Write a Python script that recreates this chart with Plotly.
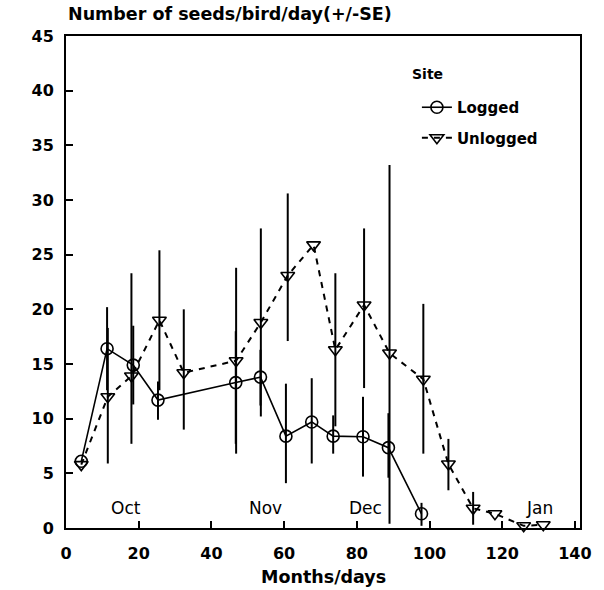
import plotly.graph_objects as go

# ---- data ----
log_x = [4.2, 11.3, 18.5, 25.3, 46.7, 53.5, 60.5, 67.6, 73.5, 81.7, 88.7, 97.8]
log_y = [6.1, 16.4, 14.9, 11.7, 13.3, 13.8, 8.4, 9.7, 8.4, 8.35, 7.35, 1.3]
log_se_plus = [0, 3.8, 3.6, 1.7, 4.7, 2.5, 4.8, 4.0, 1.9, 3.65, 3.15, 1.0]
log_se_minus = [0, 3.8, 3.6, 1.8, 5.6, 2.6, 4.3, 3.8, 1.6, 3.65, 2.75, 1.1]

unl_x = [4.2, 11.5, 18.0, 25.7, 32.4, 46.8, 53.6, 61.0, 68.1, 74.1, 82.0, 89.0,
         98.3, 105.2, 112.0, 118.0, 125.9, 131.3]
unl_y = [5.8, 12.0, 13.9, 19.0, 14.2, 15.3, 18.8, 23.1, 25.9, 16.3, 20.4, 16.0,
         13.6, 5.85, 1.8, 1.3, 0.2, 0.3]
unl_se_plus = [0, 6.3, 9.4, 6.4, 5.8, 8.5, 8.6, 7.5, 0, 7.0, 7.0, 17.2,
               6.9, 2.3, 1.5, 0, 0, 0]
unl_se_minus = [0, 6.1, 6.2, 6.4, 5.2, 8.5, 8.6, 6.0, 0, 7.0, 7.6, 15.6,
                6.8, 2.4, 1.5, 0, 0, 0]

months = ["Oct", "Nov", "Dec", "Jan"]
month_x = [16.6, 54.8, 82.3, 130.2]
month_y = [1.8, 1.8, 1.8, 1.8]

x_ticks = [0, 20, 40, 60, 80, 100, 120, 140]
y_ticks = [0, 5, 10, 15, 20, 25, 30, 35, 40, 45]

BOLD = "DejaVu Sans"

fig = go.Figure()

fig.add_trace(go.Scatter(
    x=log_x, y=log_y, mode="lines+markers", name="<b>Logged</b>",
    legendgroup="a",
    line=dict(color="black", width=1.6),
    marker=dict(symbol="circle-open", size=12, color="black", line=dict(width=1.6)),
    error_y=dict(type="data", symmetric=False, array=log_se_plus,
                 arrayminus=log_se_minus, color="black", thickness=2, width=0),
    cliponaxis=False,
))

fig.add_trace(go.Scatter(
    x=unl_x, y=unl_y, mode="lines+markers", name="<b>Unlogged</b>",
    legendgroup="b",
    line=dict(color="black", width=2, dash="6px,6px"),
    marker=dict(symbol="triangle-down-open", size=12, color="black", line=dict(width=1.6)),
    error_y=dict(type="data", symmetric=False, array=unl_se_plus,
                 arrayminus=unl_se_minus, color="black", thickness=2, width=0),
    cliponaxis=False,
))

for m, mx, my in zip(months, month_x, month_y):
    fig.add_annotation(x=mx, y=my, text=m, showarrow=False, xref="x", yref="y",
                       font=dict(family="DejaVu Sans", size=17, color="black"))

fig.add_annotation(xref="paper", yref="paper", x=0, y=1.0, yshift=10,
                   xanchor="left", yanchor="bottom",
                   text="<b>Number of seeds/bird/day(+/-SE)</b>", showarrow=False,
                   font=dict(family=BOLD, size=17.5, color="black"))

# x-axis title as text
fig.add_annotation(xref="paper", yref="paper", x=0.5, y=0, yshift=-49,
                   xanchor="center", yanchor="middle",
                   text="<b>Months/days</b>", showarrow=False,
                   font=dict(family=BOLD, size=17.5, color="black"))

# legend title placed as text
fig.add_annotation(xref="paper", yref="paper", x=(414 - 66) / 520, y=(528 - 74) / 492,
                   xanchor="left", yanchor="middle", text="<b>Site</b>", showarrow=False,
                   font=dict(family=BOLD, size=14, color="black"))

fig.update_xaxes(
    range=[0, 141.4], tickvals=x_ticks, ticks="inside", ticklen=7, tickwidth=1.5,
    tickcolor="black", showline=True, linecolor="black", linewidth=2, mirror=True,
    showgrid=False, zeroline=False,
    tickfont=dict(family=BOLD, size=16, color="black", weight="bold"),
    ticklabelstandoff=10,
)
fig.update_yaxes(
    range=[0, 45], tickvals=y_ticks, ticks="inside", ticklen=7, tickwidth=1.5,
    tickcolor="black", showline=True, linecolor="black", linewidth=2, mirror=True,
    showgrid=False, zeroline=False,
    tickfont=dict(family=BOLD, size=16, color="black", weight="bold"),
    ticklabelstandoff=7,
)

fig.update_layout(
    width=604, height=590,
    margin=dict(l=66, r=18, t=36, b=62),
    plot_bgcolor="white", paper_bgcolor="white",
    showlegend=True,
    legend=dict(
        x=(421 - 66) / 520, y=(528 - 91) / 492, xanchor="left", yanchor="top",
        font=dict(family=BOLD, size=15, color="black"),
        bgcolor="rgba(0,0,0,0)", itemwidth=30, tracegroupgap=8,
    ),
)

fig.write_html("out.html")
